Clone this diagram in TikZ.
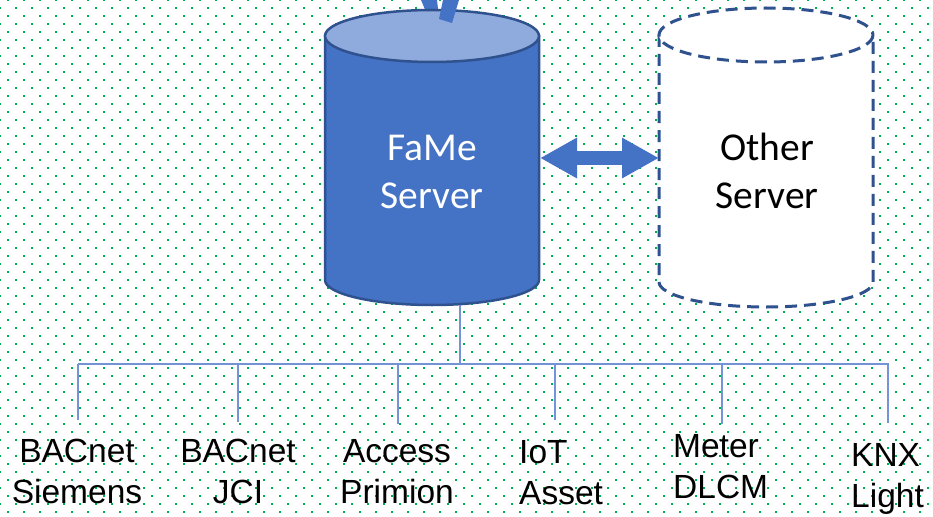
\documentclass[tikz,border=0pt]{standalone}
\usepackage{fontspec}
\setmainfont{Liberation Sans}
\newfontfamily\carlito{Carlito}
\usetikzlibrary{arrows.meta}
\definecolor{fameblue}{HTML}{4472C4}
\definecolor{famelight}{HTML}{8FAADC}
\definecolor{famedark}{HTML}{2F528F}
\definecolor{dotgreen}{HTML}{00B050}
\definecolor{busblue}{HTML}{7394D6}
\tikzset{
  dotrow/.style={dotgreen, line width=2.4pt, dash pattern=on 2.4pt off 13.6pt},
  famebody/.style={fill=fameblue, draw=famedark, line width=2.5pt},
  fametop/.style={fill=famelight, draw=famedark, line width=2.5pt},
  otherline/.style={draw=famedark, line width=3pt, dash pattern=on 12pt off 7pt},
  srvlabel/.style={inner sep=0pt, anchor=base, align=center, font=\carlito\fontsize{39.5}{48}\selectfont},
  buslabel/.style={inner sep=0pt, font=\fontsize{33.5}{41}\selectfont},
  busline/.style={draw=busblue, line width=1.5pt},
  bigarrow/.style={draw=fameblue, line width=14pt, {Triangle[length=37pt,width=38pt]}-{Triangle[length=37pt,width=38pt]}},
}
\begin{document}
\begin{tikzpicture}[x=1pt,y=-1pt]
\useasboundingbox (0,0) rectangle (933,516);
\fill[white] (0,0) rectangle (933,516);
% dotted background
\foreach \j in {0,...,65}{
  \pgfmathsetmacro\off{mod(\j,2)==0 ? 7 : -1}
  \draw[dotrow] (\off, 8*\j) -- (940, 8*\j);
}
% partial arrow at top (behind cylinder part)
\fill[fameblue] (421,0) -- (437,0) -- (438,9) -- (426,12) -- cycle;
% FaMe server cylinder
\path[famebody] (325,36) -- (325,280) arc[start angle=180, end angle=0, x radius=107, y radius=25] -- (539,36) -- cycle;
\path[fametop] (432,36) ellipse[x radius=107, y radius=26];
\fill[fameblue] (443,0) -- (459,0) -- (452,23) -- (439,19) -- cycle;
\node[srvlabel, text=white] (fame) at (432,208) {FaMe\\Server};
% Other server cylinder
\fill[white] (659,35) -- (659,282) arc[start angle=180, end angle=0, x radius=107, y radius=25] -- (873,35) -- cycle;
\draw[otherline] (659,35) -- (659,282) arc[start angle=180, end angle=0, x radius=107, y radius=25] -- (873,35);
\path[fill=white, otherline] (766,35) ellipse[x radius=107, y radius=27];
\node[srvlabel, text=black] (other) at (767,208) {Other\\Server};
% double arrow
\coordinate (fameR) at (540,158);
\coordinate (otherL) at (659,158);
\draw[bigarrow] (fameR) -- (otherL);
% bus
\coordinate (famebot) at (460,305);
\coordinate (busjoin) at (460,364);
\coordinate (busL) at (78,364);
\coordinate (busR) at (889,364);
\draw[busline] (famebot) -- (busjoin);
\draw[busline] (busL) -- (busR);
\foreach \n/\x/\y in {1/78/420, 2/238/422, 3/398/424, 4/555/420, 5/722/424, 6/888/423}{
  \coordinate (top\n) at (\x,364);
  \coordinate (end\n) at (\x,\y);
  \draw[busline] (top\n) -- (end\n);
}
% labels
\node[buslabel, anchor=base, align=center] (l1) at (77,503) {BACnet\\Siemens};
\node[buslabel, anchor=base, align=center] (l2) at (238,503) {BACnet\\JCI};
\node[buslabel, anchor=base, align=center] (l3) at (397,503) {Access\\Primion};
\node[buslabel, anchor=base west, align=left] (l4) at (519,504) {IoT\\Asset};
\node[buslabel, anchor=base west, align=left] (l5) at (673,498) {Meter\\DLCM};
\node[buslabel, anchor=base west, align=left] (l6) at (851,507) {KNX\\Light};
\end{tikzpicture}
\end{document}
